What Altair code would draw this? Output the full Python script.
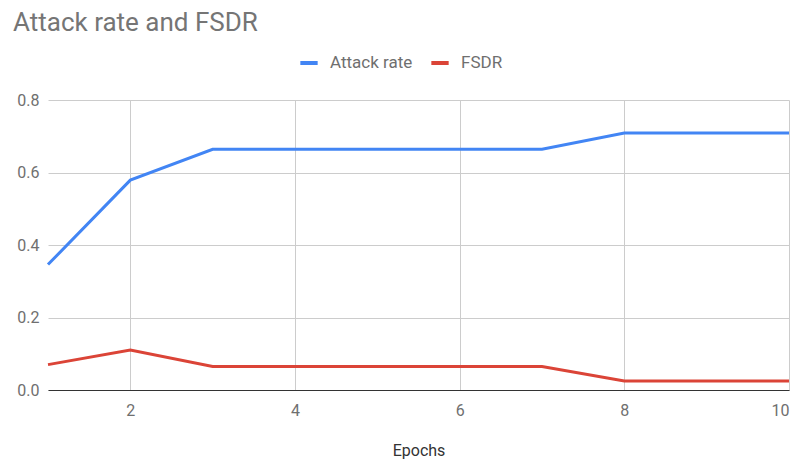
import altair as alt
import pandas as pd

epochs = [1, 2, 3, 4, 5, 6, 7, 8, 9, 10]
attack_rate = [0.346, 0.579, 0.664, 0.664, 0.664, 0.664, 0.664, 0.709, 0.709, 0.709]
fsdr = [0.070, 0.110, 0.065, 0.065, 0.065, 0.065, 0.065, 0.025, 0.025, 0.025]
series_names = ["Attack rate", "FSDR"]
series_colors = ["#4285F4", "#DB4437"]
x_ticks = [2, 4, 6, 8, 10]
y_ticks = [0.0, 0.2, 0.4, 0.6, 0.8]

rows = []
for name, vals in zip(series_names, [attack_rate, fsdr]):
    for e, v in zip(epochs, vals):
        rows.append({"Epochs": e, "value": v, "series": name})
df = pd.DataFrame(rows)

FONT = "Roboto"
LABEL = "#6f6f6f"

chart = (
    alt.Chart(df)
    .mark_line(strokeWidth=3)
    .encode(
        x=alt.X(
            "Epochs:Q",
            scale=alt.Scale(domain=[1, 10], nice=False, zero=False),
            axis=alt.Axis(
                values=x_ticks,
                title="Epochs",
                ticks=False,
                domain=True,
                domainColor="#333333",
                domainWidth=1,
                grid=True,
                gridColor="#cccccc",
                labelFont=FONT,
                labelFontSize=16,
                labelColor=LABEL,
                labelPadding=12,
                titleFont=FONT,
                titleFontSize=16,
                titleFontWeight="normal",
                titleColor="#333333",
                titlePadding=24,
            ),
        ),
        y=alt.Y(
            "value:Q",
            scale=alt.Scale(domain=[0, 0.8], nice=False),
            axis=alt.Axis(
                values=y_ticks,
                format=".1f",
                title=None,
                ticks=False,
                domain=False,
                grid=True,
                gridColor="#cccccc",
                labelFont=FONT,
                labelFontSize=16,
                labelColor=LABEL,
                labelPadding=9,
            ),
        ),
        color=alt.Color(
            "series:N",
            scale=alt.Scale(domain=series_names, range=series_colors),
            legend=alt.Legend(
                title=None,
                orient="none",
                direction="horizontal",
                legendX=250,
                legendY=-48,
                symbolType="stroke",
                symbolSize=300,
                symbolStrokeWidth=4,
                labelFont=FONT,
                labelFontSize=17,
                labelColor=LABEL,
                labelOffset=10,
                columnPadding=10,
            ),
        ),
    )
    .properties(
        width=741,
        height=290,
        autosize=alt.AutoSizeParams(type="none"),
        padding={"left": 40, "top": 92, "right": 2, "bottom": 72},
        title=alt.TitleParams(
            "Attack rate and FSDR",
            anchor="start",
            frame="group",
            font=FONT,
            fontSize=26,
            fontWeight="normal",
            color="#757575",
            dx=-35,
            offset=16,
        ),
    )
    .configure_view(stroke=None)
)

chart.save("out.html", embed_options={"renderer": "svg", "actions": False})
